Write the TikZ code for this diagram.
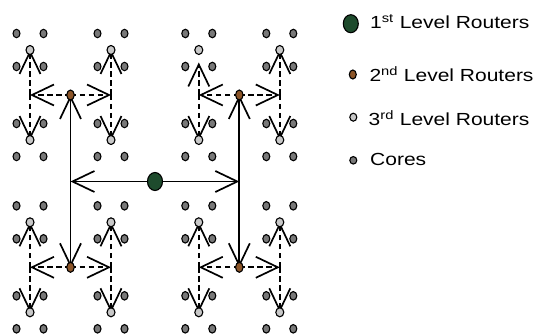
\documentclass[tikz,border=0pt]{standalone}
\usepackage{fontspec}
\setmainfont{Liberation Sans}
\usepackage{graphicx}
\usetikzlibrary{arrows.meta,shapes.geometric,backgrounds}

\definecolor{levelone}{RGB}{30,75,45}
\definecolor{leveltwo}{RGB}{140,85,40}
\definecolor{levelthree}{RGB}{200,200,200}
\definecolor{coregray}{RGB}{120,120,120}

\tikzset{
  dot/.style={ellipse, draw=black, line width=1.1pt, inner sep=0pt},
  rone/.style={dot, fill=levelone, minimum width=15pt, minimum height=18pt},
  rtwo/.style={dot, fill=leveltwo, minimum width=7.5pt, minimum height=10pt},
  rthree/.style={dot, fill=levelthree, minimum width=8pt, minimum height=9pt},
  core/.style={dot, fill=coregray, minimum width=7pt, minimum height=8.5pt},
  barb/.tip={Straight Barb[length=22pt, width=21pt, line width=1.7pt]},
  solidlink/.style={line width=1.7pt, -barb},
  dashlink/.style={line width=1.7pt, dash pattern=on 5.5pt off 3.5pt, -barb},
  legendtext/.style={anchor=base west, inner sep=0pt,
    font=\fontsize{17.5}{20}\selectfont},
}

\begin{document}
\begin{tikzpicture}[x=1pt, y=-1pt]
\useasboundingbox (0,0) rectangle (533,334);

% root router and its two branch points
\node[rone] (r1) at (155,181.5) {};
\coordinate (j1L) at (70.5,181.5);
\coordinate (j1R) at (239.3,181.5);

% second level routers, third level routers and their cores
\foreach \q/\x/\y in {a/70.5/95, b/239.3/95, c/70.5/267.3, d/239.3/267.3} {
  \node[rtwo] (r2\q) at (\x,\y) {};
  \foreach \s/\dx in {L/-40.5, R/40.5} {
    \coordinate (j\q\s) at ({\x+(\dx)},\y);
    \foreach \t/\dy in {U/-45, D/45} {
      \node[rthree] (r3\q\s\t) at ({\x+(\dx)},{\y+(\dy)}) {};
      \foreach \cx/\m in {-13.5/1, 13.5/2}
        \foreach \cy/\n in {-16.5/1, 16.5/2}
          \node[core] (k\q\s\t\m\n) at ({\x+(\dx)+(\cx)},{\y+(\dy)+(\cy)}) {};
    }
  }
}

\begin{scope}[on background layer]
  % first level links
  \draw[solidlink] (r1) -- (j1L);
  \draw[solidlink] (r1) -- (j1R);
  \draw[solidlink] (j1L) -- (r2a.center);
  \draw[solidlink] (j1L) -- (r2c.center);
  \draw[solidlink] (j1R) -- (r2b.center);
  \draw[solidlink] (j1R) -- (r2d.center);
  % second level links
  \foreach \q in {a,b,c,d} {
    \foreach \s in {L,R} {
      \draw[dashlink] (r2\q.center) -- (j\q\s);
      \draw[dashlink] (j\q\s) -- (r3\q\s D.center);
    }
  }
  \draw[dashlink] (jaL) -- (r3aLU.center);
  \draw[dashlink] (jaR) -- (r3aRU.center);
  \draw[dashlink, shorten >=12.5pt] (jbL) -- (r3bLU.center);
  \draw[dashlink] (jbR) -- (r3bRU.center);
  \draw[dashlink] (jcL) -- (r3cLU.center);
  \draw[dashlink] (jcR) -- (r3cRU.center);
  \draw[dashlink] (jdL) -- (r3dLU.center);
  \draw[dashlink] (jdR) -- (r3dRU.center);
\end{scope}

% legend
\node[rone] (g1) at (350.8,23.7) {};
\node[rtwo, minimum width=7pt, minimum height=9pt] (g2) at (352.8,74.5) {};
\node[rthree, minimum width=7pt, minimum height=8pt] (g3) at (353.3,117.2) {};
\node[core, minimum width=7pt, minimum height=7.5pt] (g4) at (353.3,160.3) {};
\node[legendtext] (t1) at (370,29) {\scalebox{1.2}[1]{1\textsuperscript{st} Level Routers}};
\node[legendtext] (t2) at (369.3,81.7) {\scalebox{1.2}[1]{2\textsuperscript{nd} Level Routers}};
\node[legendtext] (t3) at (368.5,126) {\scalebox{1.2}[1]{3\textsuperscript{rd} Level Routers}};
\node[legendtext] (t4) at (370,165) {\scalebox{1.2}[1]{Cores}};
\end{tikzpicture}
\end{document}
